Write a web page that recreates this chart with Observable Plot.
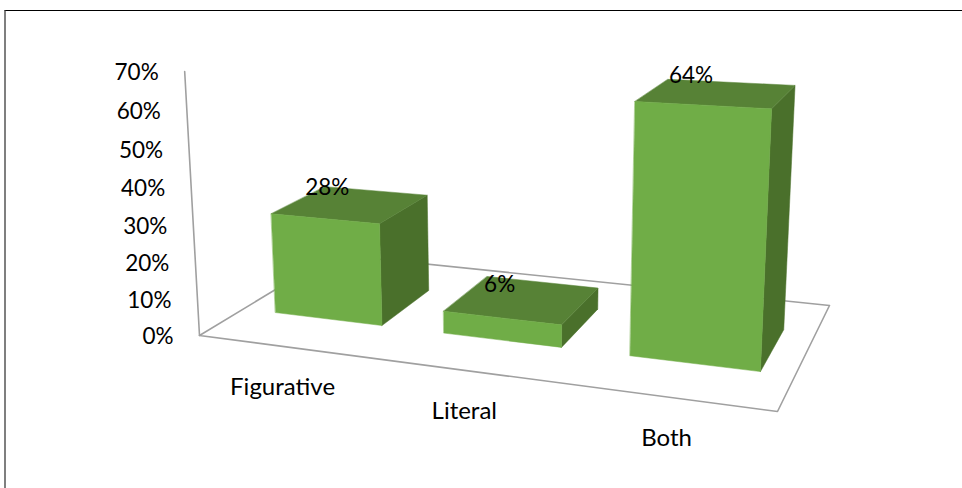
<!DOCTYPE html>
<html><head><meta charset="utf-8">
<script src="https://cdn.jsdelivr.net/npm/d3@7"></script>
<script src="https://cdn.jsdelivr.net/npm/@observablehq/plot@0.6"></script>
<style>
body{margin:0;background:#fff}
#chart{position:relative;width:962px;height:488px;overflow:hidden}
#chart svg{display:block}
#frame{position:absolute;left:4px;top:10px;right:-4px;bottom:-4px;border-top:1px solid #000;border-left:2px solid #7f7f7f}
</style>
</head><body><div id="chart"><div id="frame"></div></div><script>
const categories=["Figurative","Literal","Both"];
const values=[0.28,0.06,0.64];
const ticks=[0,0.1,0.2,0.3,0.4,0.5,0.6,0.7];
const fmt=d3.format(".0%");

// Camera: floor corners (front-left, front-right, back-right, back-left) and vertical vanishing point.
const floorCorners=[[199,335],[777,411],[829,305],[333,254]];
const vanish=[519,6035],wallTopY=71,zMax=0.7;
const [[x0,y0],[x1,y1],[x2,y2],[x3,y3]]=floorCorners;
const dx1=x1-x2,dx2=x3-x2,sx=x0-x1+x2-x3,dy1=y1-y2,dy2=y3-y2,sy=y0-y1+y2-y3,den=dx1*dy2-dx2*dy1;
const g=(sx*dy2-dx2*sy)/den,h=(dx1*sy-sx*dy1)/den;
const a=x1-x0+g*x1,b=x3-x0+h*x3,d=y1-y0+g*y1,e=y3-y0+h*y3;
const kz=-(y0-wallTopY)/(vanish[1]-wallTopY)/zMax;
function project(X,Y,Z){
  const W=1+g*X+h*Y+kz*Z;
  return [(a*X+b*Y+x0+kz*Z*vanish[0])/W,(d*X+e*Y+y0+kz*Z*vanish[1])/W];
}
const band=d3.scaleBand(categories,[0.007,1.005]);
const center=c=>band(c)+band.bandwidth()/2;
const halfW=0.107,yFront=0.295,yBack=0.70;

function face(name,corners){return corners.map(([X,Y,Z])=>{const [px,py]=project(X,Y,Z);return{name,px,py};});}
const front=[],top_=[],side=[];
categories.forEach((c,i)=>{
  const l=center(c)-halfW,r=center(c)+halfW,v=values[i];
  front.push(...face(c,[[l,yFront,0],[r,yFront,0],[r,yFront,v],[l,yFront,v]]));
  top_.push(...face(c,[[l,yFront,v],[r,yFront,v],[r,yBack,v],[l,yBack,v]]));
  side.push(...face(c,[[r,yFront,0],[r,yBack,0],[r,yBack,v],[r,yFront,v]]));
});
const floorLine=face("floor",[[0,0,0],[1,0,0],[1,1,0],[0,1,0],[0,0,0]]);
const wallLine=face("wall",[[0,0,zMax],[0,0,0]]);
const polygon=(data,fill)=>Plot.line(data,{x:"px",y:"py",z:"name",fill,stroke:fill,strokeWidth:0.5,curve:"linear-closed"});

const tickData=ticks.map(t=>{const [px,py]=project(0,0,t);return{px,py,t:fmt(t)};});
const catData=categories.map((c,i)=>{const [px,py]=project((i+0.5)/3,0,0);return{px,py,c};});
const valData=categories.map((c,i)=>{const [px,py]=project(center(c)-halfW,yFront,values[i]);return{px,py,t:fmt(values[i])};});
const font={fontFamily:"Lato, Carlito, sans-serif",fill:"#000"};

document.getElementById("chart").prepend(Plot.plot({
  width:962,height:488,margin:0,
  x:{type:"identity",axis:null},y:{type:"identity",axis:null},
  marks:[
    Plot.line(floorLine,{x:"px",y:"py",stroke:"#a0a0a0",strokeWidth:1.6}),
    Plot.line(wallLine,{x:"px",y:"py",stroke:"#a0a0a0",strokeWidth:1.6}),
    polygon(side,"#4a702b"),
    polygon(top_,"#578236"),
    polygon(front,"#70ad47"),
    Plot.text(tickData,{x:"px",y:"py",text:"t",textAnchor:"end",dx:-26,dy:1.5,fontSize:22.5,...font}),
    Plot.text(catData,{x:"px",y:"py",text:"c",dx:-1,dy:41,fontSize:24,...font}),
    Plot.text(valData,{x:"px",y:"py",text:"t",dx:56,dy:-26,fontSize:22.5,...font})
  ]
}));
</script></body></html>
